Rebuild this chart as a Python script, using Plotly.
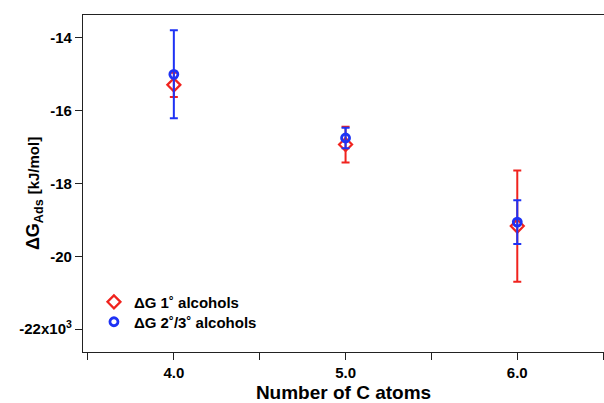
import plotly.graph_objects as go

carbons = [4.0, 5.0, 6.0]
dg_primary = [-15.29, -16.93, -19.17]
err_primary = [0.33, 0.49, 1.53]
dg_secondary = [-15.0, -16.75, -19.06]
err_secondary = [1.21, 0.28, 0.60]

x_tickvals = [4.0, 5.0, 6.0]
x_ticktext = ["4.0", "5.0", "6.0"]
y_tickvals = [-14, -16, -18, -20, -22]
y_ticktext = ["-14", "-16", "-18", "-20", "-22x10<sup>3</sup>"]

RED = "rgb(240,35,30)"
BLUE = "rgb(30,50,245)"
FONT = "Liberation Sans, Arial, sans-serif"

fig = go.Figure()
fig.add_trace(go.Scatter(
    x=carbons, y=dg_primary, mode="markers", name="ΔG 1˚ alcohols", legend="legend",
    marker=dict(symbol="diamond-open", size=10, color=RED, line=dict(width=2.2, color=RED)),
    error_y=dict(type="data", array=err_primary, visible=True, color=RED, thickness=2, width=4),
))
fig.add_trace(go.Scatter(
    x=carbons, y=dg_secondary, mode="markers", name="ΔG 2˚/3˚ alcohols", legend="legend2",
    marker=dict(symbol="circle-open", size=8, color=BLUE, line=dict(width=2.8, color=BLUE)),
    error_y=dict(type="data", array=err_secondary, visible=True, color=BLUE, thickness=2, width=4),
))

legend_common = dict(xanchor="left", yanchor="middle", bgcolor="rgba(0,0,0,0)",
                     font=dict(size=15, family=FONT, weight="bold"), itemwidth=30)

fig.update_layout(
    width=604, height=403,
    margin=dict(l=83, r=0, t=15, b=51),
    plot_bgcolor="white", paper_bgcolor="white",
    font=dict(family=FONT, size=15, color="black", weight="bold"),
    showlegend=True,
    legend=dict(x=0.021, y=0.148, **legend_common),
    legend2=dict(x=0.021, y=0.089, **legend_common),
    xaxis=dict(range=[3.471, 6.505], tickvals=x_tickvals, ticktext=x_ticktext,
               showline=True, linecolor="#222", linewidth=1.3, mirror=True,
               ticks="outside", ticklen=7, tickcolor="#222", tickwidth=1.2,
               minor=dict(dtick=0.5, tick0=3.5, ticks="outside", ticklen=7,
                          tickcolor="#222", tickwidth=1.2, showgrid=False),
               showgrid=False, zeroline=False,
               tickfont=dict(size=15, family=FONT, weight="bold"),
               title=dict(text="Number of C atoms", font=dict(size=19, family=FONT, weight="bold"), standoff=5)),
    yaxis=dict(range=[-22.63, -13.37], tickvals=y_tickvals, ticktext=y_ticktext,
               showline=True, linecolor="#222", linewidth=1.3,
               ticks="outside", ticklen=7, tickcolor="#222", tickwidth=1.2,
               showgrid=False, zeroline=False,
               tickfont=dict(size=15, family=FONT, weight="bold")),
    annotations=[dict(
        text="ΔG<sub>Ads</sub> <span style='font-size:15px'>[kJ/mol]</span>",
        xref="paper", yref="paper", x=0, y=0.47, xshift=-62,
        textangle=-90, showarrow=False,
        font=dict(size=18, family=FONT, weight="bold"))],
)

fig.write_html("out.html")
